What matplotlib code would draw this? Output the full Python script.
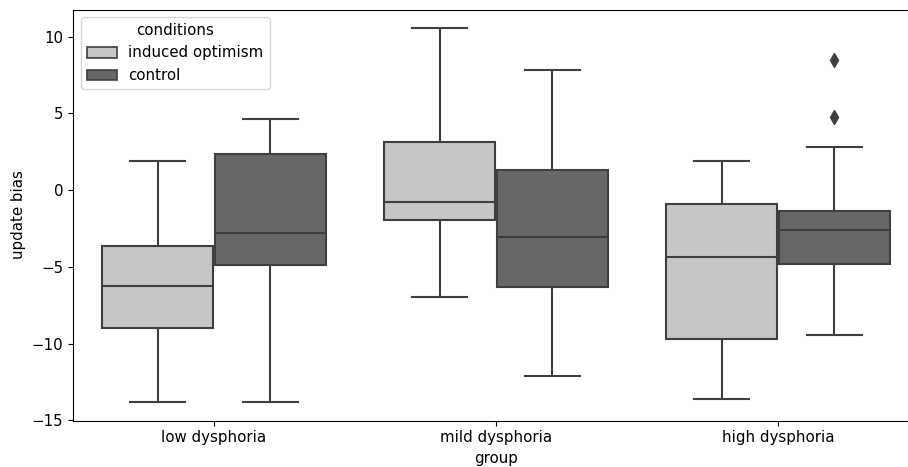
import numpy as np
import matplotlib
matplotlib.use('Agg')
import matplotlib.pyplot as plt
from matplotlib.patches import Patch

# box statistics
groups = ['low dysphoria', 'mild dysphoria', 'high dysphoria']
conditions = ['induced optimism', 'control']

whislo = {'induced optimism': [-13.8, -6.98, -13.59],
          'control': [-13.8, -12.1, -9.44]}
q1 = {'induced optimism': [-8.98, -1.96, -9.72],
      'control': [-4.87, -6.3, -4.83]}
med = {'induced optimism': [-6.26, -0.78, -4.37],
       'control': [-2.8, -3.07, -2.63]}
q3 = {'induced optimism': [-3.65, 3.11, -0.89],
      'control': [2.33, 1.30, -1.37]}
whishi = {'induced optimism': [1.91, 10.59, 1.87],
          'control': [4.62, 7.81, 2.79]}
fliers = {'induced optimism': [[], [], []],
          'control': [[], [], [8.49, 4.74]]}

colors = {'induced optimism': '#c6c6c6', 'control': '#676767'}
gray = '#3f3f3f'

plt.rcParams.update({'font.size': 10.8, 'font.family': 'DejaVu Sans'})
fig = plt.figure(figsize=(9.08, 4.67), dpi=100)
ax = fig.add_axes([73 / 908, 46.5 / 467, 846 / 908, 411 / 467])

width = 0.392
for j, cond in enumerate(conditions):
    offset = -0.2 if j == 0 else 0.2
    stats = []
    for i in range(len(groups)):
        stats.append({'whislo': whislo[cond][i], 'q1': q1[cond][i],
                      'med': med[cond][i], 'q3': q3[cond][i],
                      'whishi': whishi[cond][i], 'fliers': fliers[cond][i]})
    pos = np.arange(len(groups)) + offset
    ax.bxp(stats, positions=pos, widths=width, patch_artist=True,
           capwidths=width / 2, manage_ticks=False,
           boxprops=dict(facecolor=colors[cond], edgecolor=gray, linewidth=1.5),
           medianprops=dict(color=gray, linewidth=1.5),
           whiskerprops=dict(color=gray, linewidth=1.5),
           capprops=dict(color=gray, linewidth=1.5),
           flierprops=dict(marker='d', markerfacecolor=gray, markeredgecolor=gray,
                           markersize=7, linestyle='none'))

ax.set_xticks(range(len(groups)))
ax.set_xticklabels(groups)
ax.set_xlim(-0.5, 2.5)
ax.set_ylim(-15.02, 11.78)
ax.set_yticks([-15, -10, -5, 0, 5, 10])
ax.set_xlabel('group')
ax.set_ylabel('update bias')

handles = [Patch(facecolor=colors[c], edgecolor=gray, linewidth=1.2) for c in conditions]
ax.legend(handles, conditions, title='conditions', loc='upper left')

fig.savefig('out.png', dpi=100)
